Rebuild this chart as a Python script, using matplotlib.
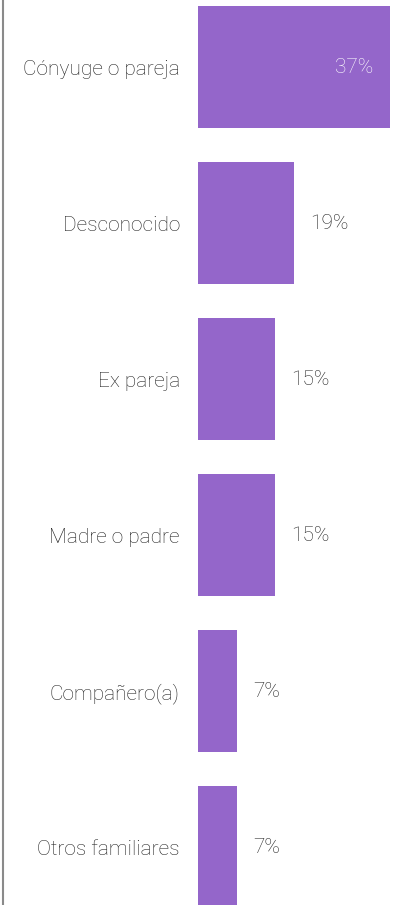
import matplotlib.pyplot as plt
from matplotlib.lines import Line2D

categorias = ["Cónyuge o pareja", "Desconocido", "Ex pareja", "Madre o padre",
              "Compañero(a)", "Otros familiares"]
valores = [37, 18.5, 14.8, 14.8, 7.5, 7.5]
etiquetas = ["37%", "19%", "15%", "15%", "7%", "7%"]

color_barra = "#9466ca"
color_texto = "#222222"

plt.rcParams['font.family'] = ['Roboto', 'DejaVu Sans']
plt.rcParams['font.weight'] = 'light'

fig = plt.figure(figsize=(4, 9.05), dpi=100)
# eje: x=0 en el pixel 198, 37 en el pixel 390
ax = fig.add_axes([198 / 400, 0, 192 / 400, 1])

pos = list(range(len(categorias)))
ax.barh(pos, valores, height=122 / 156, color=color_barra)
ax.set_xlim(0, 37)
ax.set_ylim((905 - 67) / 156, -67 / 156)

ax.set_yticks(pos, categorias)
ax.tick_params(axis='y', length=0, pad=13, labelsize=15, labelcolor=color_texto)
ax.set_xticks([])
for s in ax.spines.values():
    s.set_visible(False)

for p, v, e in zip(pos, valores, etiquetas):
    if v > 30:
        ax.annotate(e, (v, p), xytext=(-17, 0), textcoords='offset pixels',
                    ha='right', va='center', color='white', fontsize=15)
    else:
        ax.annotate(e, (v, p), xytext=(16, 0), textcoords='offset pixels',
                    ha='left', va='center', color=color_texto, fontsize=15,
                    annotation_clip=False)

# linea gris a la izquierda
fig.add_artist(Line2D([2.5 / 400, 2.5 / 400], [0, 1], color='#8a8a8a', lw=1.5))

fig.savefig("out.png", dpi=100)
